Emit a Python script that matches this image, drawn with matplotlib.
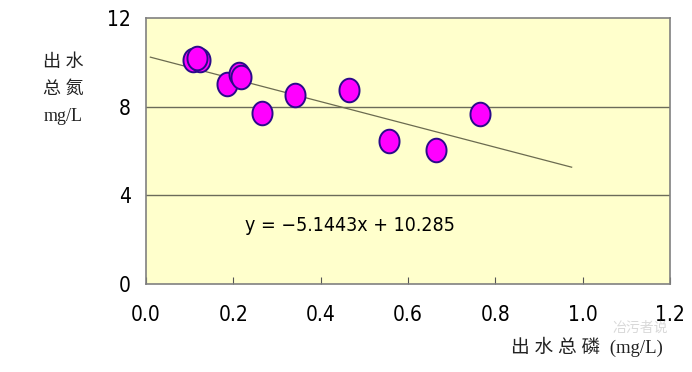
import numpy as np
import matplotlib
matplotlib.use("Agg")
import matplotlib.pyplot as plt
from matplotlib.path import Path

plt.rcParams['font.family'] = ['DejaVu Sans']
plt.rcParams['font.stretch'] = 'condensed'

# ---------------- datos ----------------
tp_out = [0.108, 0.123, 0.116, 0.186, 0.213, 0.217, 0.266, 0.342, 0.464, 0.556, 0.665, 0.766]
tn_out = [10.10, 10.10, 10.20, 9.00, 9.46, 9.35, 7.72, 8.52, 8.76, 6.46, 6.06, 7.65]
slope = -5.1443
intercept = 10.285
trend_x = [0.01, 0.975]
x_ticks = [0.0, 0.2, 0.4, 0.6, 0.8, 1.0, 1.2]
y_ticks = [0, 4, 8, 12]

# marcador eliptico (un poco mas alto que ancho)
t = np.linspace(0, 2 * np.pi, 60)
elipse = Path(np.column_stack([0.85 * np.cos(t), np.sin(t)]), closed=True)

fig = plt.figure(figsize=(6.92, 3.72), dpi=100)
ax = fig.add_axes([0.211, 0.2366, 0.757, 0.715])
ax.set_facecolor('#FFFFCC')

for yy in [4, 8]:
    ax.axhline(yy, color='#6b6b5a', lw=1.0, zorder=1)

tx = np.array(trend_x)
ax.plot(tx, slope * tx + intercept, color='#6b6b50', lw=0.9, zorder=2)

ax.plot(tp_out, tn_out, linestyle='none', marker=elipse, ms=17,
        mfc='#FF00FF', mec='#2a0a8a', mew=1.4, zorder=3)

ax.set_xlim(0, 1.2)
ax.set_ylim(0, 12)
ax.set_xticks(x_ticks)
ax.set_xticklabels([f"{v:.1f}" for v in x_ticks])
ax.set_yticks(y_ticks)
ax.tick_params(axis='x', direction='in', length=5, pad=15, labelsize=15, color='#555555')
ax.tick_params(axis='y', direction='in', length=0, pad=11, labelsize=15)
for s in ax.spines.values():
    s.set_color('#808080')
    s.set_linewidth(1.2)

ax.text(0.226, 2.66, "y = −5.1443x + 10.285", fontsize=14, va='center', ha='left')

cjk = ['Liberation Serif', 'Noto Sans CJK SC', 'DejaVu Sans']
fig.text(0.091, 0.76, "出 水\n总 氮\nmg/L", fontsize=13, ha='center', va='center',
         family=cjk, linespacing=1.75, color='#222222')
fig.text(0.848, 0.067, "出 水 总 磷  (mg/L)", fontsize=13.5, ha='center', va='center',
         family=cjk, color='#222222')
fig.text(0.925, 0.118, "冶污者说", fontsize=10, ha='center', va='center',
         family=['Noto Sans CJK SC', 'DejaVu Sans'], color='#d0d0d0', alpha=0.8)

fig.savefig("out.png", dpi=100)
